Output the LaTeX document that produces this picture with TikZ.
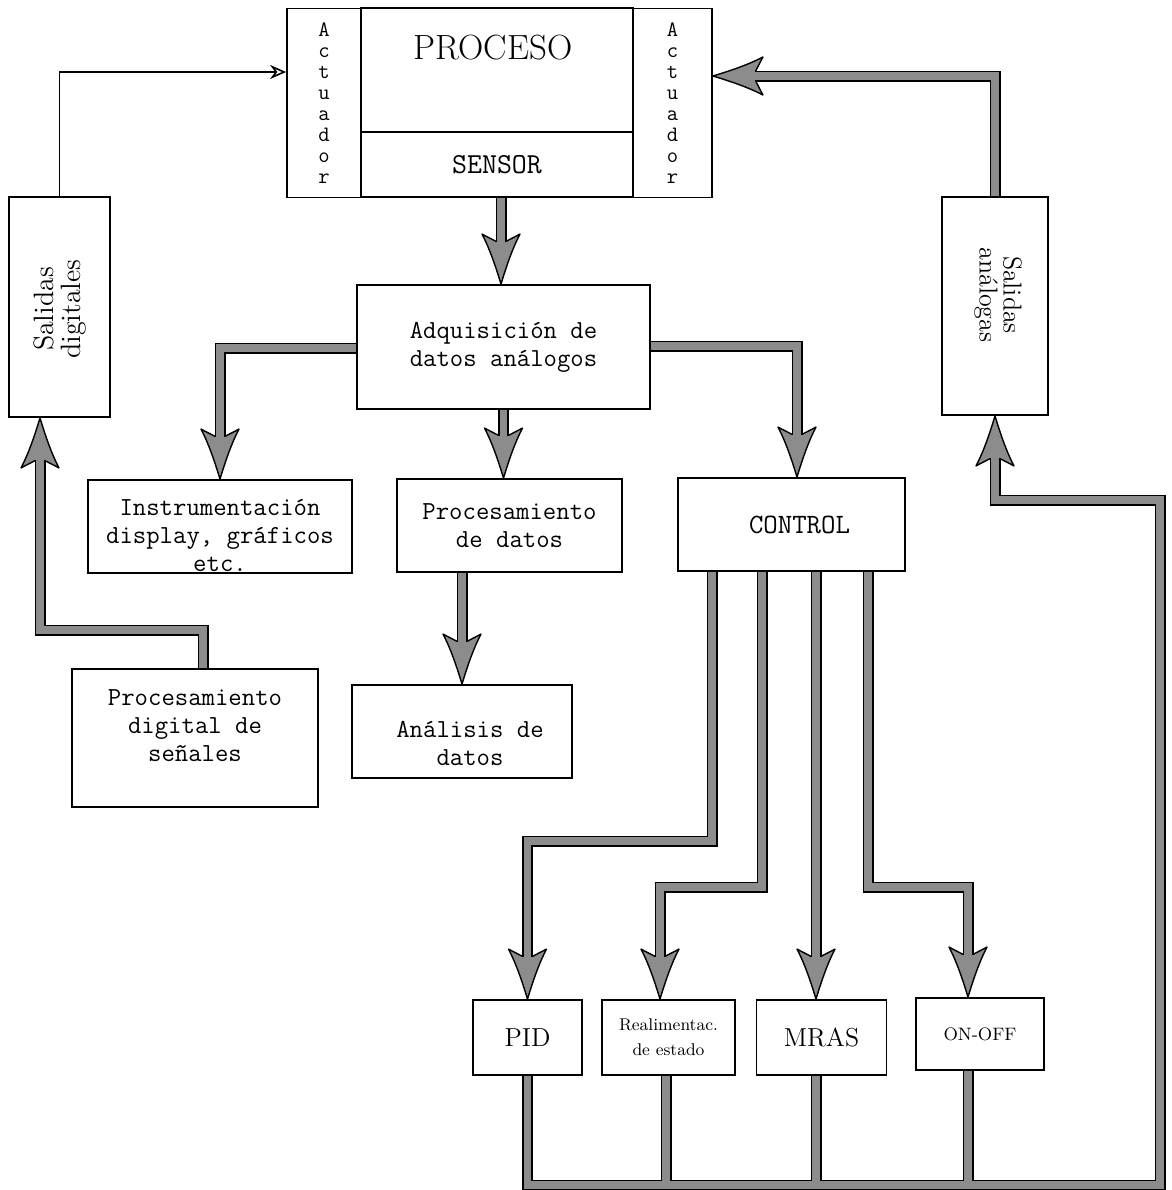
\documentclass[tikz,border=0pt]{standalone}
\usepackage{fontspec}
\usepackage{tikz}
\usetikzlibrary{arrows.meta}
\colorlet{bandgrey}{black!45}

% broad arrow head with slightly hollow flanks, used on the wide grey bands
\pgfdeclarearrow{
  name = FatHead,
  setup code = {
    \pgfarrowssettipend{0pt}
    \pgfarrowssetbackend{-25pt}
    \pgfarrowssetvisualbackend{-23pt}
    \pgfarrowssetlineend{-21pt}
    \pgfarrowshullpoint{0pt}{0pt}
    \pgfarrowshullpoint{-25pt}{9.5pt}
    \pgfarrowshullpoint{-25pt}{-9.5pt}
  },
  drawing code = {
    \pgfsetlinewidth{0.7pt}
    \pgfsetroundjoin
    \pgfsetstrokecolor{black}
    \pgfsetfillcolor{bandgrey}
    \pgfpathmoveto{\pgfpoint{0pt}{0pt}}
    \pgfpathcurveto{\pgfpoint{-9pt}{2.7pt}}{\pgfpoint{-18pt}{5.8pt}}{\pgfpoint{-25pt}{9.5pt}}
    \pgfpathlineto{\pgfpoint{-21.5pt}{2.75pt}}
    \pgfpathlineto{\pgfpoint{-21.5pt}{-2.75pt}}
    \pgfpathlineto{\pgfpoint{-25pt}{-9.5pt}}
    \pgfpathcurveto{\pgfpoint{-18pt}{-5.8pt}}{\pgfpoint{-9pt}{-2.7pt}}{\pgfpoint{0pt}{0pt}}
    \pgfpathclose
    \pgfusepathqfillstroke
  }
}

\pgfdeclarelayer{bands}
\pgfsetlayers{bands,main}

\begin{document}
\begin{tikzpicture}[x=0.5pt,y=-0.5pt,
  box/.style={draw, line width=0.9pt, inner sep=0pt, align=center},
  mono/.style={font=\ttfamily\fontsize{13}{14}\selectfont, align=center},
  stack/.style={font=\ttfamily\fontsize{11}{10.5}\selectfont, align=center},
  fatout/.style={line width=5.5pt, draw=black, line join=miter, line cap=butt},
  fatin/.style={line width=3.6pt, draw=bandgrey, line join=miter, line cap=butt},
  thin/.style={line width=0.8pt, -{Stealth[open, length=8pt, width=7pt]}}
]
\useasboundingbox (0,0) rectangle (1172,1190);

% ---------- process block ----------
\node[box, stack, minimum width=37pt, minimum height=94.5pt] (lact) at (324,103)
      {A\\c\\t\\u\\a\\d\\o\\r};
\node[box, minimum width=136pt, minimum height=62pt] (proc) at (497,70) {};
\node[font=\rmfamily\fontsize{17.5}{17}\selectfont] (proctxt) at (493,48) {PROCESO};
\node[box, font=\ttfamily\fontsize{14.5}{14}\selectfont, minimum width=136pt, minimum height=32.5pt]
      (sensor) at (497,164.5) {SENSOR};
\node[box, stack, minimum width=39.5pt, minimum height=94.5pt] (ract) at (672.5,103)
      {A\\c\\t\\u\\a\\d\\o\\r};

% ---------- output blocks ----------
\node[box, minimum width=50.5pt, minimum height=110pt] (sd) at (59.5,307) {};
\node[font=\rmfamily\fontsize{14}{13.5}\selectfont, align=center, rotate=90] (sdtxt) at (60,309)
      {Salidas\\digitales};
\node[box, minimum width=53pt, minimum height=109pt] (sa) at (995,306) {};
\node[font=\rmfamily\fontsize{13}{12}\selectfont, align=center, rotate=-90] (satxt) at (998,295)
      {Salidas\\análogas};

% ---------- acquisition and processing ----------
\node[box, mono, minimum width=146.5pt, minimum height=62pt] (adq) at (503.5,347)
      {Adquisición de\\datos análogos};
\node[box, minimum width=132pt, minimum height=46.5pt] (instr) at (220,526.5) {};
\node[mono] (instrtxt) at (220,535) {Instrumentación\\display, gráficos\\etc.};
\node[box, mono, minimum width=112.5pt, minimum height=46.5pt] (pdat) at (509.5,525.5)
      {Procesamiento\\de datos};
\node[box, font=\ttfamily\fontsize{14}{14}\selectfont, minimum width=113.5pt, minimum height=46.5pt]
      (ctrl) at (791.5,524.5) {\hspace*{8pt}CONTROL};
\node[box, minimum width=110pt, minimum height=46.5pt] (ana) at (462,731.5) {};
\node[mono] (anatxt) at (470,743) {Análisis de\\datos};
\node[box, minimum width=123pt, minimum height=69pt] (pdig) at (195,738) {};
\node[mono] (pdigtxt) at (195,726) {Procesamiento\\digital de\\señales};

% ---------- control algorithms ----------
\node[box, minimum width=54.5pt, minimum height=37.5pt, font=\rmfamily\fontsize{13}{13}\selectfont]
      (pid) at (527.5,1037.5) {PID};
\node[box, minimum width=66.5pt, minimum height=37.5pt, font=\rmfamily\fontsize{8.5}{12.5}\selectfont]
      (real) at (668.5,1037.5) {Realimentac.\\de estado};
\node[box, minimum width=65pt, minimum height=37.5pt, font=\rmfamily\fontsize{13}{13}\selectfont]
      (mras) at (821.5,1037.5) {MRAS};
\node[box, minimum width=64pt, minimum height=36pt, font=\rmfamily\fontsize{9}{10}\selectfont]
      (onoff) at (980,1034) {ON-OFF};

% ---------- routing coordinates ----------
\coordinate (xsen) at (501,0);
\coordinate (yl) at (0,348);
\coordinate (yr) at (0,346);
\coordinate (xr) at (797,0);
\coordinate (xd1) at (203,0);
\coordinate (yd) at (0,630);
\coordinate (xd2) at (40,0);
\coordinate (c1) at (712,0);
\coordinate (c2) at (762,0);
\coordinate (c3) at (816,0);
\coordinate (c4) at (868,0);
\coordinate (t1) at (527.5,0);
\coordinate (t2) at (660,0);
\coordinate (t2b) at (666,0);
\coordinate (t4) at (968,0);
\coordinate (yb1) at (0,841);
\coordinate (yb2) at (0,887);
\coordinate (yband) at (0,1185);
\coordinate (xright) at (1160,0);
\coordinate (yret) at (0,500);
\coordinate (ytop) at (0,76);
\coordinate (ythin) at (0,72);

\def\pS{(sensor.south -| xsen) -- (adq.north -| xsen)}
\def\pL{(adq.west |- yl) -- (instr.north |- yl) -- (instr.north)}
\def\pM{(adq.south) -- (pdat.north -| adq.south)}
\def\pR{(adq.east |- yr) -- (xr |- yr) -- (ctrl.north -| xr)}
\def\pA{(pdat.south -| ana.north) -- (ana.north)}
\def\pD{(pdig.north -| xd1) -- (xd1 |- yd) -- (xd2 |- yd) -- (sd.south -| xd2)}
\def\pCa{(ctrl.south -| c1) -- (c1 |- yb1) -- (t1 |- yb1) -- (pid.north -| t1)}
\def\pCb{(ctrl.south -| c2) -- (c2 |- yb2) -- (t2 |- yb2) -- (real.north -| t2)}
\def\pCc{(ctrl.south -| c3) -- (mras.north -| c3)}
\def\pCd{(ctrl.south -| c4) -- (c4 |- yb2) -- (t4 |- yb2) -- (onoff.north -| t4)}
\def\pB{(pid.south -| t1) -- (t1 |- yband) -- (xright |- yband) -- (xright |- yret) -- (sa.south |- yret) -- (sa.south)}
\def\pBb{(real.south -| t2b) -- (t2b |- yband)}
\def\pBc{(mras.south -| c3) -- (c3 |- yband)}
\def\pBd{(onoff.south -| t4) -- (t4 |- yband)}
\def\pT{(sa.north) -- (sa.north |- ytop) -- (ract.east |- ytop)}

\begin{pgfonlayer}{bands}
  % black outlines of the wide bands, with their heads
  \foreach \p in {\pS,\pL,\pM,\pR,\pA,\pD,\pCa,\pCb,\pCc,\pCd,\pB,\pT}
    {\draw[fatout,-{FatHead}] \p;}
  \foreach \p in {\pBb,\pBc,\pBd}
    {\draw[fatout] \p;}
  % grey core of the bands
  \foreach \p in {\pS,\pL,\pM,\pR,\pA,\pD,\pCa,\pCb,\pCc,\pCd,\pB,\pT}
    {\draw[fatin, shorten >=20pt] \p;}
  \foreach \p in {\pBb,\pBc,\pBd}
    {\draw[fatin] \p;}
\end{pgfonlayer}

% thin line from the digital outputs to the left actuator
\draw[thin] (sd.north) -- (sd.north |- ythin) -- (lact.west |- ythin);
\end{tikzpicture}
\end{document}
